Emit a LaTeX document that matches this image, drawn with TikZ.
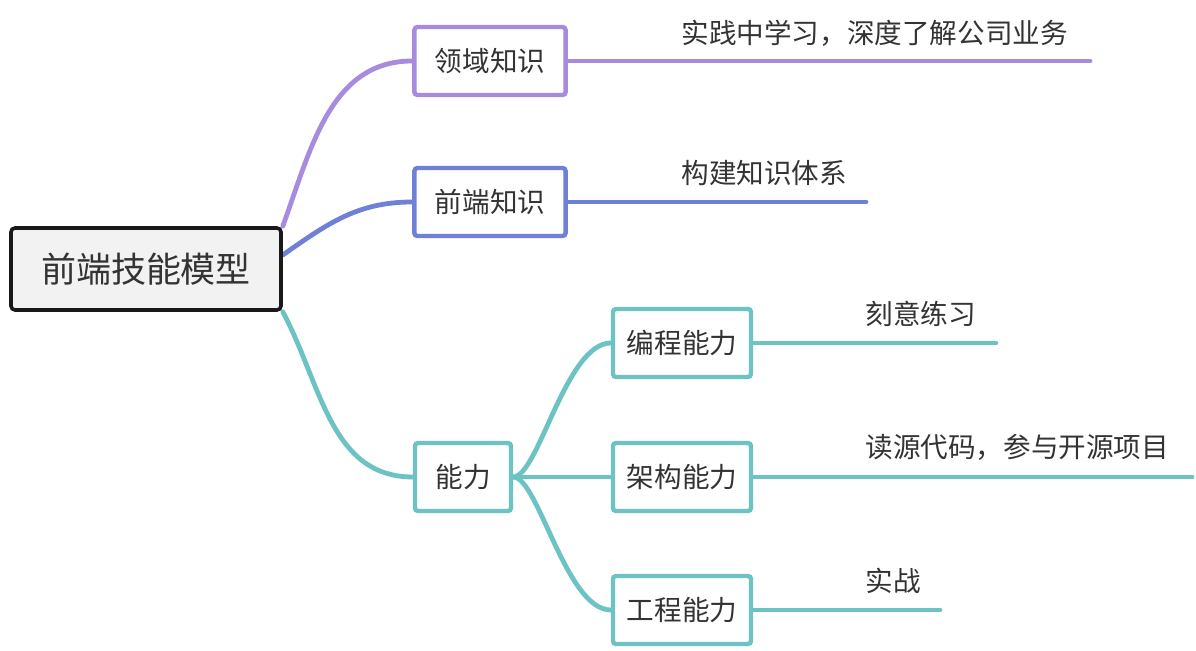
\documentclass[tikz,border=0pt]{standalone}
\usepackage{fontspec}
\setmainfont{Noto Sans CJK SC}
\usepackage{tikz}
\usetikzlibrary{backgrounds}
\definecolor{lingyu}{HTML}{A78BDF}
\definecolor{qianduan}{HTML}{6F80D9}
\definecolor{nengli}{HTML}{6DC3C3}
\definecolor{ink}{HTML}{333333}

\begin{document}
\begin{tikzpicture}[x=0.5pt, y=-0.5pt,
	root/.style={draw=black!90, fill=black!5, line width=1.8pt, rounded corners=2pt, inner xsep=15pt, minimum height=41pt, text=ink, font=\fontsize{17.5}{20}\selectfont},
	topic/.style={draw, fill=white, line width=2.2pt, rounded corners=1.5pt, inner xsep=10.2pt, minimum height=34pt, text=ink, font=\fontsize{13.8}{16}\selectfont},
	subtopic/.style={topic, inner xsep=6.9pt},
	note/.style={anchor=west, inner sep=0pt, text=ink, font=\fontsize{13.8}{16}\selectfont},
	branch/.style={line width=2.4pt, line cap=round}]
\useasboundingbox (0,0) rectangle (1196,651);

\node[root] (root) at (146,269) {前端技能模型};
\node[topic, draw=lingyu] (lingyu) at (490,61) {领域知识};
\node[topic, draw=qianduan] (qianduan) at (490,202) {前端知识};
\node[topic, draw=nengli] (nengli) at (463,477) {能力};
\node[subtopic, draw=nengli] (biancheng) at (682,343) {编程能力};
\node[subtopic, draw=nengli] (jiagou) at (682,477) {架构能力};
\node[subtopic, draw=nengli] (gongcheng) at (682,610) {工程能力};

\node[note] (shijian) at (681,33) {实践中学习，深度了解公司业务};
\node[note] (tixi) at (681,173) {构建知识体系};
\node[note] (lianxi) at (865,314) {刻意练习};
\node[note] (yuanma) at (865,447) {读源代码，参与开源项目};
\node[note] (shizhan) at (865,581) {实战};

\coordinate (e1) at (1090,61);
\coordinate (e2) at (866,202);
\coordinate (e3) at (996,343);
\coordinate (e4) at (1192,477);
\coordinate (e5) at (940,610);

\begin{scope}[on background layer]
\draw[branch, lingyu] (root.north east) to[out=70, in=180] (lingyu.west);
\draw[branch, qianduan] ([yshift=7pt]root.east) to[out=35, in=180] (qianduan.west);
\draw[branch, nengli] (root.south east) to[out=-62, in=180] (nengli.west);
\draw[branch, nengli] (nengli.east) .. controls +(25,0) and +(-45,0) .. (biancheng.west);
\draw[branch, nengli] (nengli.east) -- (jiagou.west);
\draw[branch, nengli] (nengli.east) .. controls +(25,0) and +(-45,0) .. (gongcheng.west);
\draw[branch, lingyu] (lingyu.east) -- (e1);
\draw[branch, qianduan] (qianduan.east) -- (e2);
\draw[branch, nengli] (biancheng.east) -- (e3);
\draw[branch, nengli] (jiagou.east) -- (e4);
\draw[branch, nengli] (gongcheng.east) -- (e5);
\end{scope}
\end{tikzpicture}
\end{document}
